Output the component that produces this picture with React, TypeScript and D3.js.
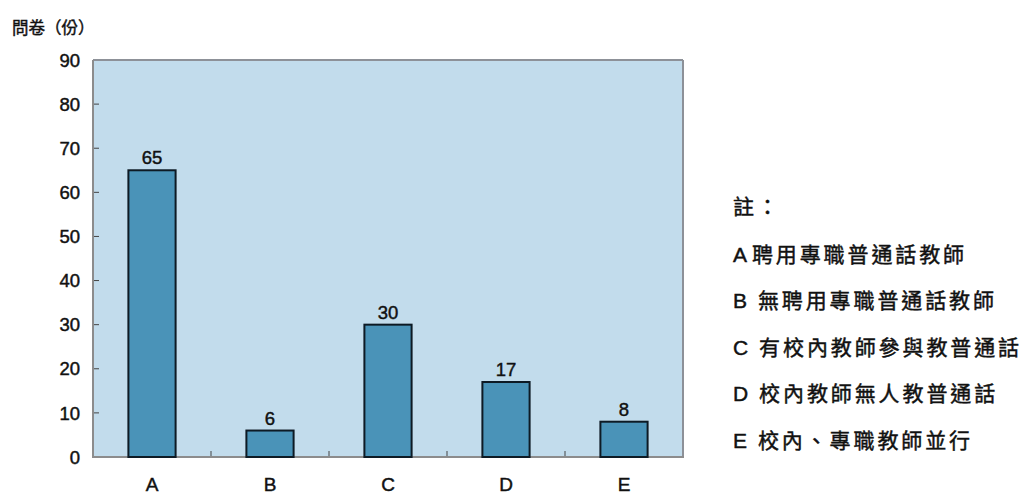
import React from "react";
import * as d3 from "d3";

const categories = ["A", "B", "C", "D", "E"];
const counts = [65, 6, 30, 17, 8];
const yTicks = [0, 10, 20, 30, 40, 50, 60, 70, 80, 90];
const noteTitle = "註：";
const noteKeys = ["A", "B", "C", "D", "E"];
const noteTexts = [
  "聘用專職普通話教師",
  "無聘用專職普通話教師",
  "有校內教師參與教普通話",
  "校內教師無人教普通話",
  "校內、專職教師並行",
];
const yTitle = "問卷（份）";

const W = 1022;
const H = 495;
const plot = { left: 93, right: 683, top: 60, bottom: 457 };
const FONT = "'Liberation Sans', Arial, 'Noto Sans CJK TC', sans-serif";
const INK = "#111";
// a thin outline on the glyphs gives the slightly heavy print look
const heavy = { stroke: INK, strokeWidth: 0.45 };

export default function App() {
  const x = d3
    .scaleBand<string>()
    .domain(categories)
    .range([plot.left, plot.right])
    .paddingInner(0)
    .paddingOuter(0);
  const y = d3.scaleLinear().domain([0, 90]).range([plot.bottom, plot.top]);
  const barW = x.bandwidth() * 0.4;
  const boundaries = categories.slice(1).map((c) => x(c) as number);

  return (
    <svg
      width={W}
      height={H}
      style={{ position: "absolute", left: 0, top: 0, background: "#fff" }}
      fontFamily={FONT}
    >
      <text x={12} y={34} fontSize={16.5} fill={INK} {...heavy}>
        {yTitle}
      </text>

      {/* plot background */}
      <rect
        x={plot.left}
        y={plot.top}
        width={plot.right - plot.left}
        height={plot.bottom - plot.top}
        fill="#c2dcec"
      />
      {/* frame: top and right */}
      <line x1={plot.left} x2={plot.right} y1={plot.top} y2={plot.top} stroke="#8d9198" strokeWidth={2} />
      <line x1={plot.right} x2={plot.right} y1={plot.top} y2={plot.bottom} stroke="#8d9198" strokeWidth={2} />

      {/* y axis */}
      {yTicks.map((t) => (
        <g key={t}>
          {t > 0 && t < 90 && (
            <line x1={plot.left} x2={plot.left + 6} y1={y(t)} y2={y(t)} stroke="#444" strokeWidth={1} />
          )}
          <text x={80} y={y(t)} dy="0.36em" textAnchor="end" fontSize={18.5} fill={INK} {...heavy}>
            {t}
          </text>
        </g>
      ))}
      <line x1={plot.left} x2={plot.left} y1={plot.top} y2={plot.bottom} stroke="#8c8c8c" strokeWidth={2} />

      {/* x axis */}
      {boundaries.map((bx, i) => (
        <line key={i} x1={bx} x2={bx} y1={plot.bottom} y2={plot.bottom - 6} stroke="#444" strokeWidth={1} />
      ))}
      <line x1={plot.left - 1} x2={plot.right + 1} y1={plot.bottom} y2={plot.bottom} stroke="#8c8c8c" strokeWidth={2} />

      {/* bars */}
      {categories.map((c, i) => {
        const cx = (x(c) as number) + x.bandwidth() / 2;
        return (
          <g key={c}>
            <rect
              x={cx - barW / 2}
              y={y(counts[i])}
              width={barW}
              height={plot.bottom - y(counts[i])}
              fill="#4a93b8"
              stroke="#0d1a24"
              strokeWidth={2}
            />
            <text x={cx} y={y(counts[i]) - 6} textAnchor="middle" fontSize={18.5} fill={INK} {...heavy}>
              {counts[i]}
            </text>
            <text x={cx} y={491} textAnchor="middle" fontSize={19} fill={INK} {...heavy}>
              {c}
            </text>
          </g>
        );
      })}

      {/* notes */}
      <text x={733} y={214} fontSize={21} fill={INK} letterSpacing={3} {...heavy}>
        {noteTitle}
      </text>
      {noteKeys.map((k, i) => (
        <text key={k} x={733} y={261.5 + i * 46.6} fontSize={21} fill={INK} letterSpacing={2.9} {...heavy}>
          {k}
          <tspan dx={i === 0 ? 2 : 8}>{noteTexts[i]}</tspan>
        </text>
      ))}
    </svg>
  );
}
